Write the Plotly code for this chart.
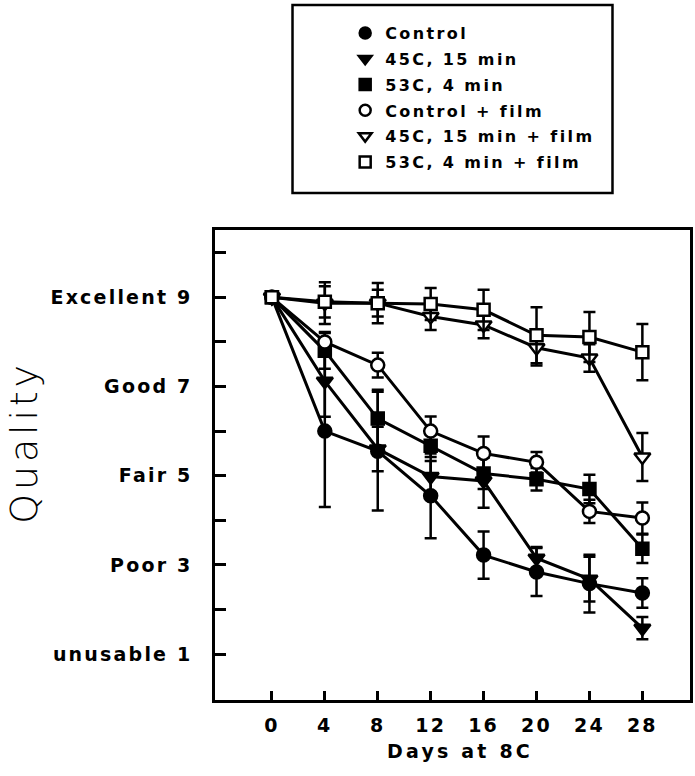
import plotly.graph_objects as go

days = [0, 4, 8, 12, 16, 20, 24, 28]

control = [9, 6.0, 5.55, 4.55, 3.22, 2.84, 2.58, 2.37]
control_err = [0, 1.7, 1.33, 0.95, 0.53, 0.54, 0.65, 0.33]

t45 = [9, 7.12, 5.6, 4.98, 4.88, 3.15, 2.68, 1.58]
t45_err = [0, 0.8, 0.5, 0.35, 0.6, 0.25, 0.5, 0.25]

t53 = [9, 7.8, 6.28, 5.67, 5.05, 4.92, 4.7, 3.36]
t53_err = [0, 0.4, 0.65, 0.25, 0.35, 0.25, 0.32, 0.32]

control_film = [9, 8.0, 7.48, 6.0, 5.5, 5.3, 4.2, 4.05]
control_film_err = [0, 0.22, 0.28, 0.33, 0.38, 0.23, 0.26, 0.35]

t45_film = [9, 8.87, 8.87, 8.57, 8.38, 7.87, 7.64, 5.42]
t45_film_err = [0, 0.47, 0.45, 0.3, 0.3, 0.4, 0.31, 0.54]

t53_film = [9, 8.9, 8.87, 8.85, 8.72, 8.15, 8.11, 7.77]
t53_film_err = [0, 0.35, 0.3, 0.36, 0.45, 0.63, 0.56, 0.63]

series_names = ["Control", "45C, 15 min", "53C, 4 min",
                "Control + film", "45C, 15 min + film", "53C, 4 min + film"]
series_values = [control, t45, t53, control_film, t45_film, t53_film]
series_errors = [control_err, t45_err, t53_err, control_film_err, t45_film_err, t53_film_err]
series_symbols = ["circle", "triangle-down", "square", "circle", "triangle-down", "square"]
series_fill = ["black", "black", "black", "white", "white", "white"]
series_sizes = [13, 14, 12, 13, 14, 12]

y_tickvals = [1, 3, 5, 7, 9]
y_ticktext = ["unusable 1", "Poor 3", "Fair 5", "Good 7", "Excellent 9"]
y_minor_ticks = [2, 4, 6, 8, 10]
x_tickvals = [0, 4, 8, 12, 16, 20, 24, 28]

FONT = "DejaVu Sans"

fig = go.Figure()

for name, vals, errs, sym, fill, sz in zip(series_names, series_values, series_errors,
                                           series_symbols, series_fill, series_sizes):
    fig.add_trace(go.Scatter(
        x=days, y=vals, mode="lines+markers", showlegend=False,
        line=dict(color="black", width=3),
        marker=dict(symbol=sym, size=sz, color=fill, line=dict(color="black", width=2.5)),
        error_y=dict(type="data", array=errs, visible=True, color="black",
                     thickness=2.5, width=6),
    ))

for i, (name, sym, fill) in enumerate(zip(series_names, series_symbols, series_fill)):
    fig.add_trace(go.Scatter(
        x=[None], y=[None], mode="markers", name=name, legendgroup=f"g{i}",
        marker=dict(symbol=sym, size=11, color=fill, line=dict(color="black", width=2.5)),
    ))

W, H = 695, 776
L, R, T, B = 215, 2, 230, 76
pw, ph = W - L - R, H - T - B

def px(xv):
    return (xv - L) / pw

def py(yv):
    return (H - B - yv) / ph

fig.add_shape(type="rect", xref="paper", yref="paper",
              x0=px(293), x1=px(615), y0=py(193), y1=py(5),
              line=dict(color="black", width=2.5), fillcolor="rgba(0,0,0,0)")

fig.add_annotation(text="Quality", xref="paper", yref="paper",
                   x=px(0), y=py(442), xanchor="left", yanchor="middle",
                   textangle=-90, showarrow=False, borderpad=0,
                   font=dict(family=FONT, size=38, color="black", weight=200))
fig.add_annotation(text="<b>Days at 8C</b>", xref="paper", yref="paper",
                   x=px(462), y=py(751), xanchor="center", yanchor="middle",
                   showarrow=False,
                   font=dict(family=FONT, size=19, color="black"))

fig.update_layout(
    width=W, height=H,
    margin=dict(l=L, r=R, t=T, b=B, pad=0),
    paper_bgcolor="white", plot_bgcolor="white",
    font=dict(family=FONT, size=19, color="black", weight="bold"),
    legend=dict(x=px(346), y=py(16), xanchor="left", yanchor="top",
                bgcolor="rgba(0,0,0,0)", borderwidth=0, tracegroupgap=2,
                font=dict(family=FONT, size=16, color="black", weight="bold")),
    xaxis=dict(range=[-4.3, 31.6], tickvals=x_tickvals, ticks="inside", ticklen=9,
               tickwidth=2.5, tickcolor="black", showline=True, linecolor="black",
               linewidth=2.5, mirror=True, showgrid=False, zeroline=False,
               ticklabelstandoff=6,
               tickfont=dict(family=FONT, size=19, color="black", weight="bold")),
    yaxis=dict(range=[-0.03, 10.51], tickvals=y_tickvals, ticktext=y_ticktext,
               ticks="inside", ticklen=11, tickwidth=2.5, tickcolor="black",
               minor=dict(tickvals=y_minor_ticks, ticks="inside", ticklen=11,
                          tickwidth=2.5, tickcolor="black", showgrid=False),
               showline=True, linecolor="black", linewidth=2.5, mirror=True,
               showgrid=False, zeroline=False, ticklabelstandoff=16,
               tickfont=dict(family=FONT, size=19, color="black", weight="bold")),
)

post = """
document.body.style.margin = '0';
document.body.style.overflow = 'hidden';
var gd = document.getElementById('{plot_id}');
gd.querySelectorAll('.xtick text, .ytick text').forEach(function(e){ e.style.letterSpacing = '2.2px'; });
gd.querySelectorAll('.legendtext').forEach(function(e){ e.style.letterSpacing = '2.4px'; });
gd.querySelectorAll('.legend [clip-path]').forEach(function(e){ e.removeAttribute('clip-path'); });
var ann = gd.querySelectorAll('.annotation-text');
if (ann.length > 0) { ann[0].style.letterSpacing = '3.8px'; }
if (ann.length > 1) { ann[1].style.letterSpacing = '3.2px'; }
"""

fig.write_html("out.html", post_script=post, config={"displayModeBar": False})
